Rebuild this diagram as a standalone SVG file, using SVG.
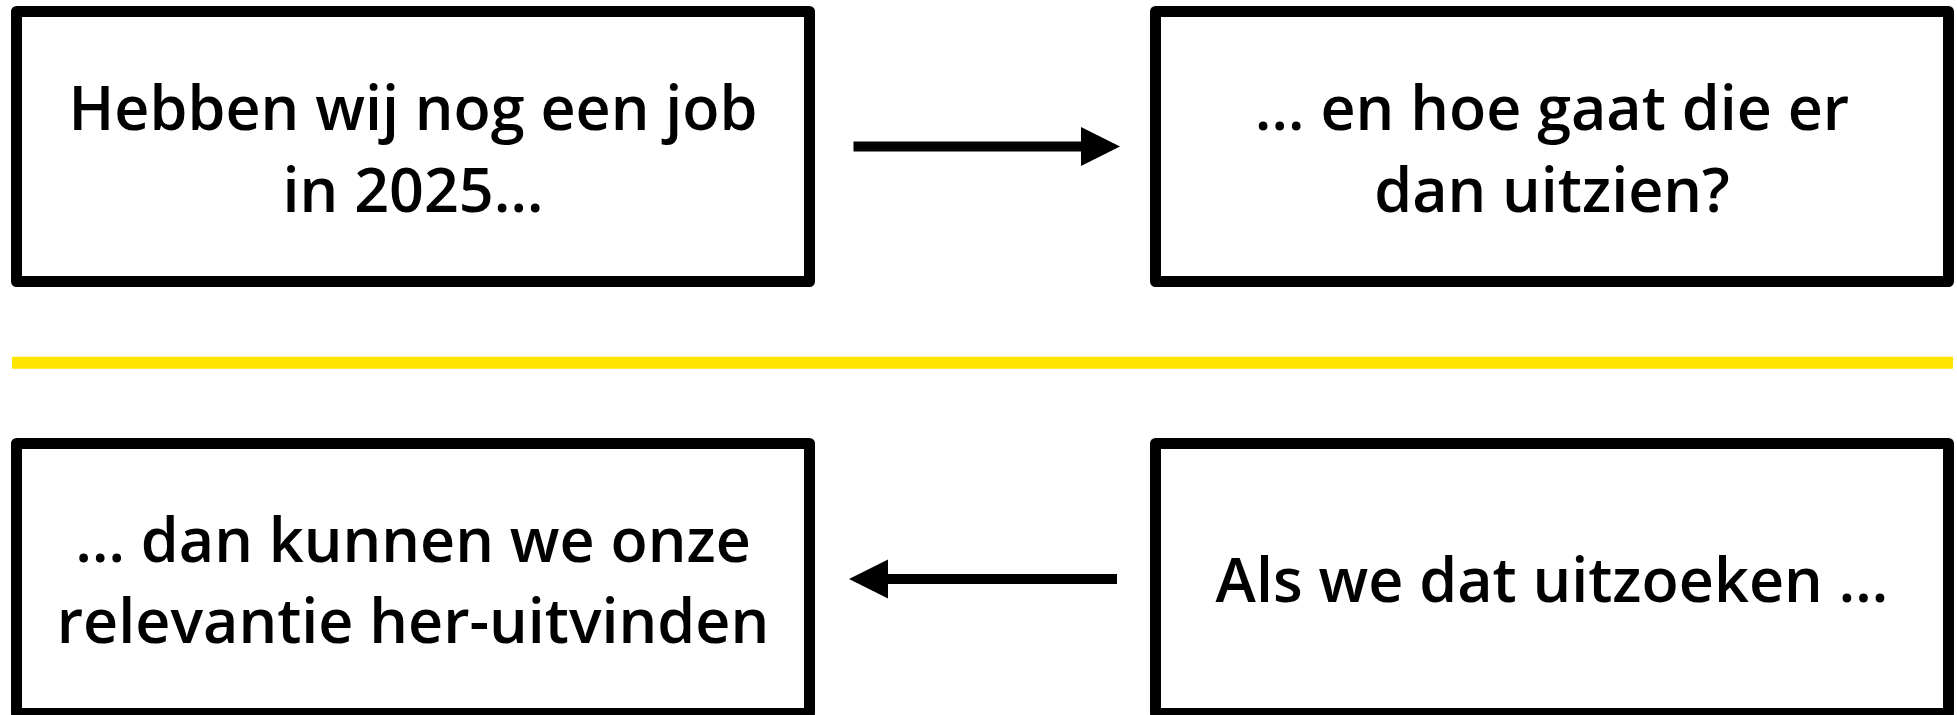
<svg xmlns="http://www.w3.org/2000/svg" width="1957" height="715" viewBox="0 0 1957 715">
  <style>
    .box { fill: #ffffff; stroke: #000000; stroke-width: 11; stroke-linejoin: round; }
    .lbl { font-family: "Open Sans", "Noto Sans", "Liberation Sans", sans-serif; font-weight: 600; font-size: 61px; fill: #000000; text-anchor: middle; }
    .conn { stroke: #000000; stroke-width: 10; fill: none; }
    .head { fill: #000000; }
  </style>
  <rect width="1957" height="715" fill="#ffffff"/>
  <line id="divider" x1="12" y1="362.8" x2="1953" y2="362.8" stroke="#FFE600" stroke-width="12"/>
  <g id="node1">
    <rect class="box" x="16.5" y="11.5" width="793" height="270"/>
    <text class="lbl" x="413" y="130">Hebben wij nog een job</text>
    <text class="lbl" x="413" y="211.7">in 2025…</text>
  </g>
  <g id="node2">
    <rect class="box" x="1155.5" y="11.5" width="793" height="270"/>
    <text class="lbl" x="1552" y="130">… en hoe gaat die er</text>
    <text class="lbl" x="1552" y="211.7">dan uitzien?</text>
  </g>
  <g id="node3">
    <rect class="box" x="16.5" y="443.5" width="793" height="270"/>
    <text class="lbl" x="413" y="561.7">… dan kunnen we onze</text>
    <text class="lbl" x="413" y="642.7">relevantie her-uitvinden</text>
  </g>
  <g id="node4">
    <rect class="box" x="1155.5" y="443.5" width="793" height="270"/>
    <text class="lbl" x="1552" y="602">Als we dat uitzoeken …</text>
  </g>
  <g id="connectors">
    <line class="conn" x1="853.5" y1="146.5" x2="1082" y2="146.5"/>
    <polygon class="head" points="1081,127 1120,146.5 1081,166"/>
    <line class="conn" x1="1117" y1="579" x2="886" y2="579"/>
    <polygon class="head" points="888,559.5 849,579 888,598.5"/>
  </g>
</svg>
